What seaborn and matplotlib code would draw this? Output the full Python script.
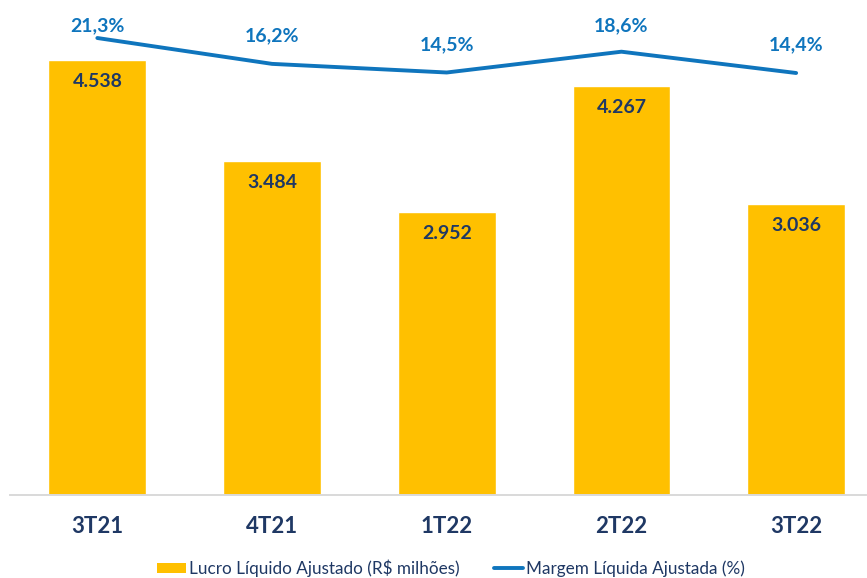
import numpy as np
import pandas as pd
import matplotlib
matplotlib.use('Agg')
import matplotlib.pyplot as plt
import seaborn as sns
from matplotlib.patches import Patch
from matplotlib.lines import Line2D

quarters = ['3T21', '4T21', '1T22', '2T22', '3T22']
lucro = [4538, 3484, 2952, 4267, 3036]
margem = [21.3, 16.2, 14.5, 18.6, 14.4]
lucro_labels = ['4.538', '3.484', '2.952', '4.267', '3.036']
margem_labels = ['21,3%', '16,2%', '14,5%', '18,6%', '14,4%']

yellow = '#FFC000'
blue = '#0F75BD'
navy = '#1F3864'

sns.set_theme(style='white')
plt.rcParams['font.family'] = ['Lato', 'DejaVu Sans']

df = pd.DataFrame({'trimestre': quarters, 'lucro': lucro, 'margem': margem})

fig = plt.figure(figsize=(8.67, 5.78), dpi=100)
ax = fig.add_axes([10 / 867, 83 / 578, 856 / 867, 475 / 578])

sns.barplot(data=df, x='trimestre', y='lucro', color=yellow, width=0.56,
            saturation=1, ax=ax)
ax.set_ylim(0, 4953)
ax.set_xlim(-0.5, 4.4)

for i, v in enumerate(lucro):
    ax.text(i, v - 225, lucro_labels[i], ha='center', va='center',
            fontsize=14, fontweight='bold', color=navy)

ax2 = ax.twinx()
df['pos'] = np.arange(len(quarters))
sns.lineplot(data=df, x='pos', y='margem', color=blue, linewidth=2.8, ax=ax2)
ax2.set_ylim(-68.8, 24.85)
for i, v in enumerate(margem):
    ax2.text(i, min(v + 5.5, 23.7), margem_labels[i], ha='center', va='center',
             fontsize=14, fontweight='bold', color=blue)

for a in (ax, ax2):
    a.set_xlabel('')
    a.set_ylabel('')
    a.set_yticks([])
    for s in ['top', 'right', 'left']:
        a.spines[s].set_visible(False)
    a.spines['bottom'].set_color('#D9D9D9')
    a.spines['bottom'].set_linewidth(1.2)

ax.set_xticks(range(len(quarters)))
ax.set_xticklabels(quarters, fontsize=16, fontweight='bold', color=navy)
ax.tick_params(axis='x', length=0, pad=15)

handles = [Patch(facecolor=yellow, edgecolor='none'),
           Line2D([0], [0], color=blue, linewidth=2.8)]
names = ['Lucro Líquido Ajustado (R$ milhões)', 'Margem Líquida Ajustada (%)']
leg = fig.legend(handles, names, loc='center', bbox_to_anchor=(0.52, 10 / 578),
                 ncol=2, frameon=False, fontsize=12.3, handlelength=1.7,
                 handleheight=0.5, columnspacing=2.0, handletextpad=0.2)
for t in leg.get_texts():
    t.set_color(navy)

fig.savefig('out.png', dpi=100)
